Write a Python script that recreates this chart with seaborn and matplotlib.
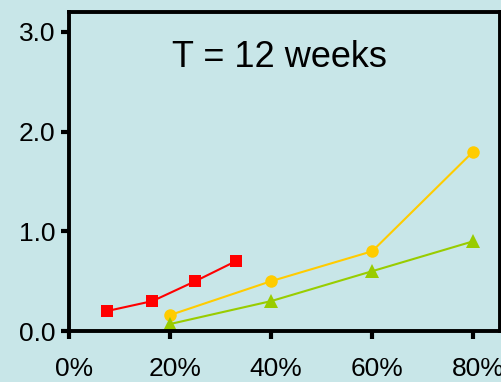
import matplotlib
matplotlib.use('Agg')
import matplotlib.pyplot as plt
import matplotlib.transforms as mtransforms
import seaborn as sns

# series
red_x = [7.5, 16.5, 25, 33]
red_y = [0.2, 0.3, 0.5, 0.7]
yellow_x = [20, 40, 60, 80]
yellow_y = [0.16, 0.5, 0.8, 1.8]
green_x = [20, 40, 60, 80]
green_y = [0.07, 0.3, 0.6, 0.9]
x_ticks = [0, 20, 40, 60, 80]
x_labels = ['0%', '20%', '40%', '60%', '80%']
y_ticks = [0, 1, 2, 3]
y_labels = ['0.0', '1.0', '2.0', '3.0']
title = 'T = 12 weeks'

bg = '#C8E6E8'
sns.set_style('ticks')
plt.rcParams['font.family'] = ['Liberation Sans', 'DejaVu Sans']

fig = plt.figure(figsize=(5.02, 3.82), dpi=100, facecolor=bg)
ax = fig.add_axes([0.1375, 0.1335, 0.8585, 0.835])
ax.set_facecolor(bg)

sns.lineplot(x=red_x, y=red_y, ax=ax, color='#FF0000', marker='s', markersize=9,
             markeredgewidth=0, linewidth=1.5)
sns.lineplot(x=yellow_x, y=yellow_y, ax=ax, color='#FFCC00', marker='o', markersize=9,
             markeredgewidth=0, linewidth=1.5)
sns.lineplot(x=green_x, y=green_y, ax=ax, color='#99CC00', marker='^', markersize=10,
             markeredgewidth=0, linewidth=1.5)

ax.set_xlim(0, 85.3)
ax.set_ylim(0, 3.2)
ax.set_xticks(x_ticks)
ax.set_xticklabels(x_labels)
ax.set_yticks(y_ticks)
ax.set_yticklabels(y_labels)
ax.tick_params(axis='both', length=6, width=3, labelsize=19, color='black', labelcolor='black')
ax.tick_params(axis='x', pad=13)
ax.tick_params(axis='y', pad=4)
for s in ax.spines.values():
    s.set_visible(True)
    s.set_linewidth(2.8)
    s.set_color('black')

# x labels sit a few pixels right of their ticks in the reference
shift = mtransforms.ScaledTranslation(5 / 100, 0, fig.dpi_scale_trans)
for lbl in ax.get_xticklabels():
    lbl.set_transform(lbl.get_transform() + shift)

ax.text(0.488, 0.859, title, transform=ax.transAxes, ha='center', va='center',
        fontsize=26, color='black')

fig.savefig('out.png', dpi=100, facecolor=bg)
